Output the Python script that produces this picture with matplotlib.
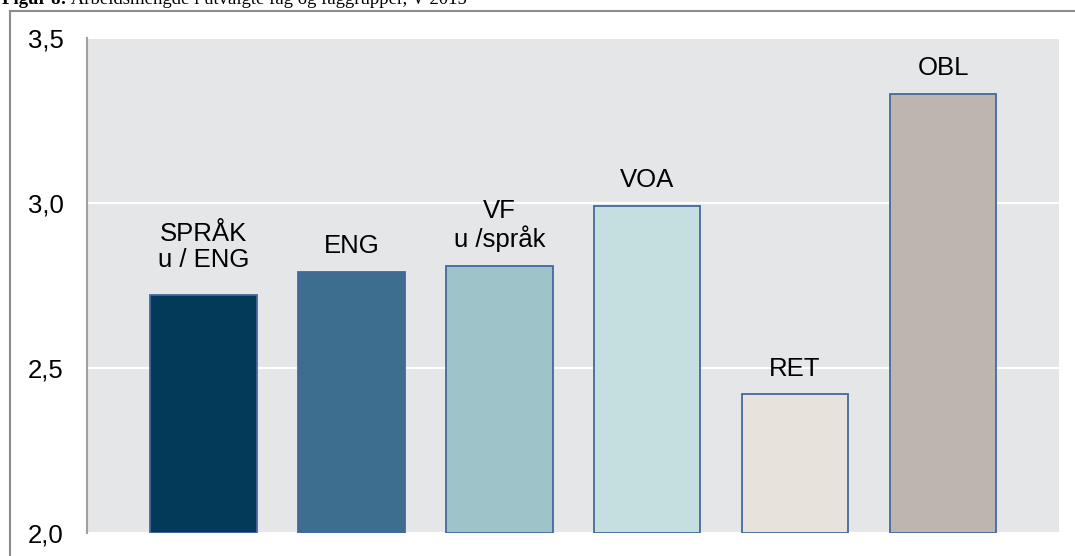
"""
Arbeidsmengde i utvalgte fag og faggrupper - søylediagram
"""
import matplotlib
matplotlib.use("Agg")
import matplotlib.pyplot as plt
from matplotlib.lines import Line2D

# Data
kategorier = ['SPRÅK\nu / ENG', 'ENG', 'VF\nu /språk', 'VOA', 'RET', 'OBL']
verdier = [2.72, 2.79, 2.81, 2.99, 2.42, 3.33]
farger = ['#033A5A', '#3D6D8F', '#9EC4CA', '#C5DFE0', '#E8E2DD', '#BEB6AE']
y_ticks = [2.0, 2.5, 3.0, 3.5]
y_tick_labels = ['2,0', '2,5', '3,0', '3,5']
tittel_fet = 'Figur 8:'
tittel = ' Arbeidsmengde i utvalgte fag og faggrupper, V 2015'

# avstand (punkter) fra søyletopp til etikett
etikett_avstand = [17, 10, 10, 10, 10, 10]

plt.rcParams['font.family'] = ['Liberation Sans', 'DejaVu Sans']

fig = plt.figure(figsize=(10.75, 5.56), dpi=100)
W, H = 1075, 556

# Ramme rundt figuren (venstre og topp synlig)
fig.add_artist(Line2D([10 / W, 10 / W], [0, 1 - 11 / H], transform=fig.transFigure,
                      color='#8C8C8C', linewidth=1.5))
fig.add_artist(Line2D([10 / W, 1], [1 - 11 / H, 1 - 11 / H], transform=fig.transFigure,
                      color='#8C8C8C', linewidth=1.5))

# Tittel (delvis avskåret i originalen)
t1 = fig.text(2 / W, 1 - 4 / H, tittel_fet, fontsize=13.5, fontweight='bold',
              family='Liberation Serif', va='baseline', ha='left')
fig.canvas.draw()
bb = t1.get_window_extent()
fig.text(bb.x1 / W, 1 - 4 / H, tittel, fontsize=13.5,
         family='Liberation Serif', va='baseline', ha='left')

ax = fig.add_axes([87 / W, 23 / H, 972 / W, 495 / H])
ax.set_facecolor('#E5E6E8')

x = list(range(len(kategorier)))
ax.bar(x, [v - 2.0 for v in verdier], bottom=2.0, width=0.72, color=farger,
       edgecolor='#44699A', linewidth=1.3, zorder=3)

for xi, v, navn, dy in zip(x, verdier, kategorier, etikett_avstand):
    ax.annotate(navn, (xi, v), xytext=(0, dy), textcoords='offset points',
                ha='center', va='bottom', fontsize=18.5, linespacing=1.1,
                color='black', zorder=4)

ax.set_xlim(-0.787, 5.784)
ax.set_ylim(2.0, 3.5)
ax.set_yticks(y_ticks)
ax.set_yticklabels(y_tick_labels, fontsize=18.5)
ax.set_xticks([])
ax.tick_params(axis='y', length=0, pad=17)
ax.grid(axis='y', color='white', linewidth=1.5, zorder=1)
ax.set_axisbelow(True)

for side in ['top', 'right', 'bottom']:
    ax.spines[side].set_visible(False)
ax.spines['left'].set_color('#A0A0A0')
ax.spines['left'].set_linewidth(1.5)

fig.savefig('out.png', dpi=100)
